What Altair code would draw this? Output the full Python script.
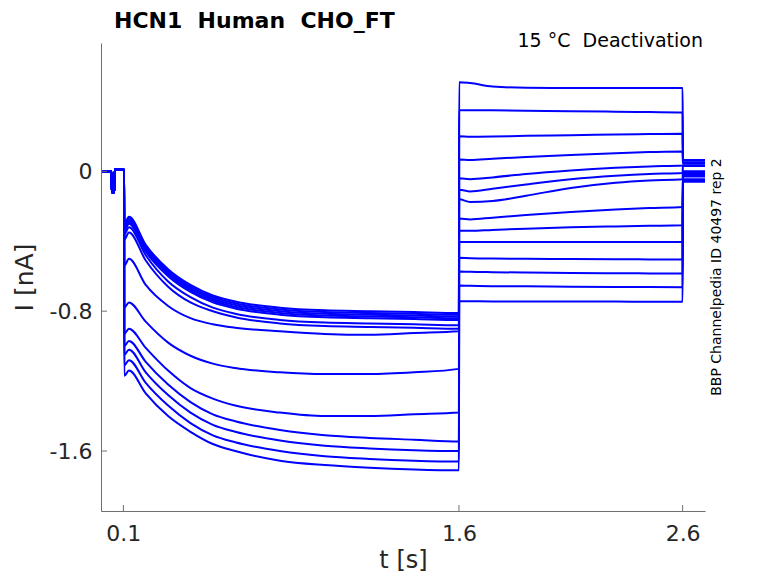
import altair as alt
import pandas as pd

# ---- data ----
x_ticks = [0.1, 1.6, 2.6]
y_ticks = [-1.6, -0.8, 0.0]

# holding period before the step (shared by all sweeps)
t_pre = [0.005, 0.047, 0.048, 0.060, 0.061, 0.103]
i_pre = [0.0, 0.0, -0.12, -0.12, 0.01, 0.01]

# activating prepulse
t_act = [0.104, 0.125, 0.2, 0.3, 0.4, 0.5, 0.6, 0.8, 1.0, 1.2, 1.4, 1.6]
act = [
    [-0.30, -0.26, -0.42, -0.56, -0.65, -0.71, -0.745, -0.78, -0.795, -0.80, -0.805, -0.81],
    [-0.31, -0.27, -0.43, -0.57, -0.66, -0.72, -0.755, -0.79, -0.805, -0.81, -0.815, -0.82],
    [-0.32, -0.28, -0.44, -0.58, -0.67, -0.73, -0.765, -0.80, -0.815, -0.82, -0.825, -0.83],
    [-0.33, -0.29, -0.45, -0.59, -0.68, -0.74, -0.775, -0.81, -0.825, -0.83, -0.835, -0.84],
    [-0.34, -0.30, -0.46, -0.60, -0.69, -0.75, -0.785, -0.82, -0.835, -0.84, -0.845, -0.85],
    [-0.36, -0.32, -0.48, -0.63, -0.72, -0.78, -0.815, -0.85, -0.865, -0.87, -0.875, -0.88],
    [-0.39, -0.35, -0.51, -0.66, -0.75, -0.80, -0.835, -0.87, -0.885, -0.89, -0.895, -0.90],
    [-0.54, -0.50, -0.65, -0.77, -0.84, -0.875, -0.895, -0.915, -0.93, -0.935, -0.925, -0.915],
    [-0.78, -0.75, -0.86, -0.98, -1.055, -1.10, -1.125, -1.15, -1.16, -1.16, -1.15, -1.13],
    [-0.93, -0.90, -1.01, -1.14, -1.24, -1.30, -1.34, -1.38, -1.40, -1.40, -1.39, -1.38],
    [-1.00, -0.97, -1.09, -1.22, -1.32, -1.39, -1.43, -1.48, -1.51, -1.525, -1.535, -1.545],
    [-1.05, -1.02, -1.15, -1.28, -1.38, -1.45, -1.49, -1.54, -1.57, -1.585, -1.595, -1.60],
    [-1.11, -1.08, -1.21, -1.34, -1.44, -1.51, -1.55, -1.60, -1.63, -1.645, -1.655, -1.66],
    [-1.17, -1.14, -1.27, -1.40, -1.49, -1.56, -1.60, -1.655, -1.68, -1.695, -1.705, -1.71],
]

# deactivating test steps
t_deact = [1.601, 1.65, 1.75, 1.9, 2.1, 2.3, 2.45, 2.6]
deact = [
    [0.51, 0.505, 0.485, 0.478, 0.477, 0.477, 0.477, 0.477],
    [0.35, 0.35, 0.349, 0.347, 0.344, 0.341, 0.339, 0.337],
    [0.20, 0.198, 0.199, 0.203, 0.207, 0.211, 0.213, 0.215],
    [0.067, 0.065, 0.072, 0.082, 0.094, 0.104, 0.110, 0.114],
    [-0.04, -0.045, -0.035, -0.015, 0.005, 0.02, 0.028, 0.033],
    [-0.105, -0.115, -0.10, -0.075, -0.045, -0.025, -0.015, -0.01],
    [-0.16, -0.175, -0.17, -0.14, -0.095, -0.065, -0.052, -0.045],
    [-0.27, -0.275, -0.265, -0.25, -0.232, -0.218, -0.21, -0.204],
    [-0.34, -0.34, -0.335, -0.328, -0.32, -0.315, -0.312, -0.309],
    [-0.405, -0.405, -0.405, -0.405, -0.405, -0.405, -0.405, -0.405],
    [-0.495, -0.497, -0.499, -0.5, -0.502, -0.503, -0.504, -0.505],
    [-0.573, -0.575, -0.577, -0.579, -0.581, -0.583, -0.584, -0.585],
    [-0.653, -0.655, -0.657, -0.658, -0.66, -0.661, -0.662, -0.663],
    [-0.743, -0.743, -0.744, -0.744, -0.745, -0.745, -0.746, -0.746],
]

# return to holding
t_tail = [2.601, 2.7]
tail = [0.065, 0.06, 0.05, 0.045, 0.035, 0.03, 0.0, -0.01, -0.015, -0.025, -0.03, -0.045, -0.05, -0.06]

title_text = "HCN1 \u00a0Human \u00a0CHO_FT"
cond_text = "15 \u00b0C \u00a0Deactivation"
side_text = "BBP Channelpedia ID 40497 rep 2"

# ---- build table ----
rows = []
for k in range(len(act)):
    ts = t_pre + t_act + t_deact + t_tail
    vs = i_pre + act[k] + deact[k] + [tail[k], tail[k]]
    for j, (t, v) in enumerate(zip(ts, vs)):
        rows.append({"t": t, "I": v, "sweep": k, "idx": j})
df = pd.DataFrame(rows)

FONT = "DejaVu Sans"
AX = "#6f6f6f"
TXT = "#262626"
W, H = 604, 468

xscale = alt.Scale(domain=[0, 2.7], nice=False, zero=False)
yscale = alt.Scale(domain=[-1.943, 0.734], nice=False, zero=False)

lines = alt.Chart(df).mark_line(color="#0000ff", strokeWidth=2, clip=True,
                                interpolate="monotone").encode(
    x=alt.X("t:Q", scale=xscale, axis=alt.Axis(
        values=x_ticks, labelExpr="'' + datum.value", labelFlush=False,
        labelFont=FONT, labelFontSize=22, labelColor=TXT, labelPadding=12,
        title="t [s]", titleFont=FONT, titleFontSize=24, titleFontWeight="normal",
        titleColor=TXT, titlePadding=4, grid=False, ticks=False,
        domainColor=AX, domainWidth=1)),
    y=alt.Y("I:Q", scale=yscale, axis=alt.Axis(
        values=y_ticks, labelExpr="datum.value == 0 ? '0\u2007\u2007' : '' + datum.value",
        labelFont=FONT, labelFontSize=22, labelColor=TXT, labelPadding=9,
        title="I [nA]", titleFont=FONT, titleFontSize=25, titleFontWeight="normal",
        titleColor=TXT, titlePadding=12, grid=False, ticks=False,
        domainColor=AX, domainWidth=1)),
    detail="sweep:N",
    order="idx:Q",
)

xt = alt.Chart(pd.DataFrame({"t": x_ticks})).mark_rule(color=AX, strokeWidth=1).encode(
    x=alt.X("t:Q", scale=xscale), y=alt.value(H), y2=alt.value(H - 6))
yt = alt.Chart(pd.DataFrame({"I": y_ticks})).mark_rule(color=AX, strokeWidth=1).encode(
    y=alt.Y("I:Q", scale=yscale), x=alt.value(0), x2=alt.value(6))

t1 = alt.Chart(pd.DataFrame({"s": [title_text]})).mark_text(
    font=FONT, fontSize=22, fontWeight="bold", color="#000000", align="left",
    baseline="alphabetic").encode(text="s:N", x=alt.value(13), y=alt.value(-15))
t2 = alt.Chart(pd.DataFrame({"s": [cond_text]})).mark_text(
    font=FONT, fontSize=19, color="#000000", align="right",
    baseline="alphabetic").encode(text="s:N", x=alt.value(W - 2), y=alt.value(4))
t3 = alt.Chart(pd.DataFrame({"s": [side_text]})).mark_text(
    font=FONT, fontSize=14, color="#000000", align="center", angle=270,
    baseline="middle").encode(text="s:N", x=alt.value(W + 12), y=alt.value(234))

chart = alt.layer(lines, xt, yt, t1, t2, t3).properties(
    width=W, height=H,
    padding={"left": 93, "top": 35, "right": 62, "bottom": 64},
    autosize="none",
).configure_view(stroke=None)

chart.save("out.html", embed_options={"renderer": "svg", "actions": False})
